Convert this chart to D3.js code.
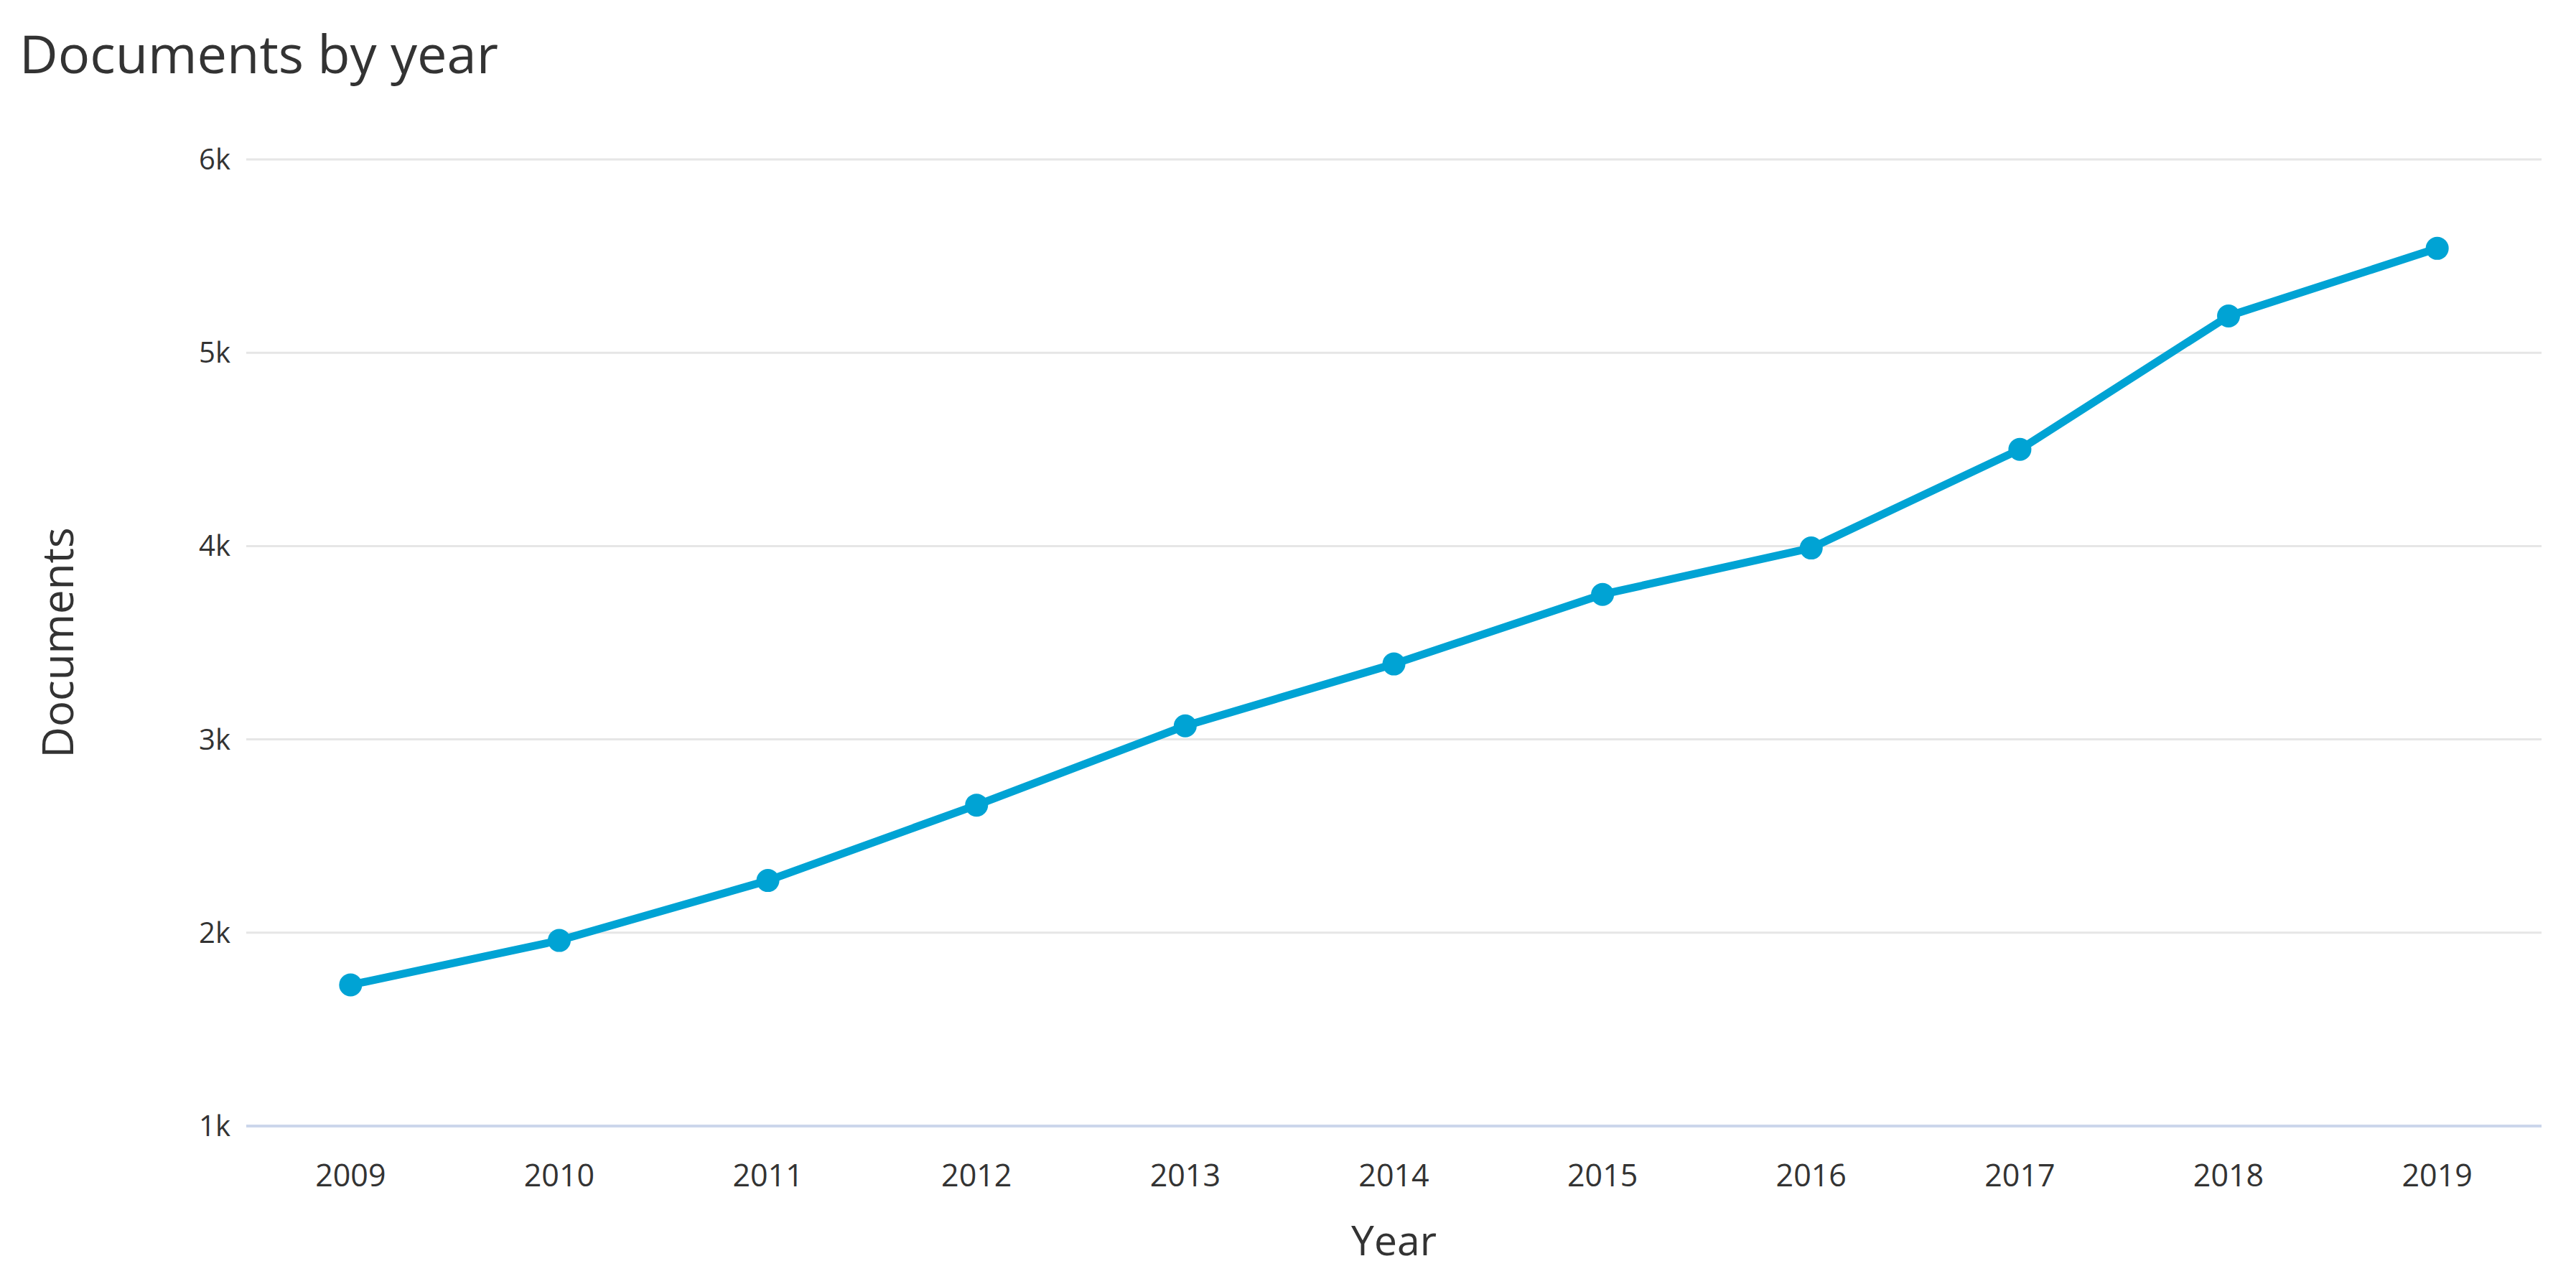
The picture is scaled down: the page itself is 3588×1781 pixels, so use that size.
<!DOCTYPE html>
<html>
<head>
<meta charset="utf-8">
<script src="https://cdn.jsdelivr.net/npm/d3@7"></script>
<style>
  body { margin: 0; background: #fff; }
  text { font-family: "Open Sans", sans-serif; fill: #333; }
</style>
</head>
<body>
<svg id="chart"></svg>
<script>
var years = ["2009","2010","2011","2012","2013","2014","2015","2016","2017","2018","2019"]
var documents = [1730, 1960, 2270, 2660, 3070, 3390, 3750, 3990, 4500, 5190, 5540]
var yTicks = [1000, 2000, 3000, 4000, 5000, 6000]

const W = 3588, H = 1781
const margin = {left: 343, right: 48, top: 222, bottom: 213}

const svg = d3.select("#chart").attr("width", W).attr("height", H)

const x = d3.scalePoint().domain(years).range([margin.left, W - margin.right]).padding(0.5)
const y = d3.scaleLinear().domain([1000, 6000]).range([H - margin.bottom, margin.top])

// title
svg.append("text")
    .attr("x", 27).attr("y", 102)
    .attr("font-size", 74)
    .text("Documents by year")

// grid lines
svg.append("g").selectAll("line").data(yTicks.slice(1)).enter().append("line")
    .attr("x1", margin.left).attr("x2", W - margin.right)
    .attr("y1", d => y(d)).attr("y2", d => y(d))
    .attr("stroke", "#e6e6e6").attr("stroke-width", 3)

// x axis line
svg.append("line")
    .attr("x1", margin.left).attr("x2", W - margin.right)
    .attr("y1", y(1000)).attr("y2", y(1000))
    .attr("stroke", "#ccd6eb").attr("stroke-width", 4)

// y tick labels
svg.append("g").selectAll("text").data(yTicks).enter().append("text")
    .attr("x", margin.left - 22)
    .attr("y", d => y(d))
    .attr("dy", "0.35em")
    .attr("text-anchor", "end")
    .attr("font-size", 40)
    .text(d => (d / 1000) + "k")

// x tick labels
svg.append("g").selectAll("text").data(years).enter().append("text")
    .attr("x", d => x(d))
    .attr("y", 1652)
    .attr("text-anchor", "middle")
    .attr("font-size", 43)
    .text(d => d)

// axis titles
svg.append("text")
    .attr("x", x("2014")).attr("y", 1748)
    .attr("text-anchor", "middle")
    .attr("font-size", 57)
    .text("Year")

svg.append("text")
    .attr("transform", "translate(102," + y(3500) + ") rotate(-90)")
    .attr("text-anchor", "middle")
    .attr("font-size", 60)
    .text("Documents")

// series
const line = d3.line().x((d, i) => x(years[i])).y(d => y(d))
svg.append("path")
    .datum(documents)
    .attr("d", line)
    .attr("fill", "none")
    .attr("stroke", "#00a3d4")
    .attr("stroke-width", 11)
    .attr("stroke-linejoin", "round")

svg.append("g").selectAll("circle").data(documents).enter().append("circle")
    .attr("cx", (d, i) => x(years[i]))
    .attr("cy", d => y(d))
    .attr("r", 16)
    .attr("fill", "#00a3d4")
</script>
</body>
</html>
